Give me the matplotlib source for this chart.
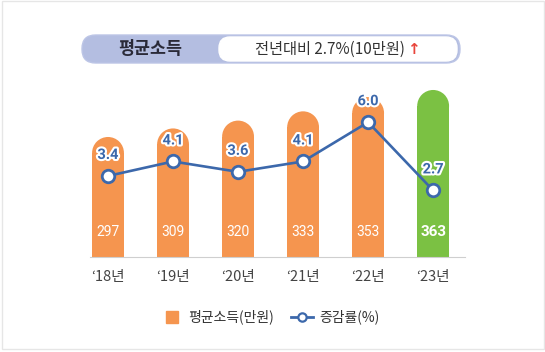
import matplotlib.pyplot as plt
import matplotlib.patheffects as pe
from matplotlib.patches import Ellipse, FancyBboxPatch, Rectangle
from matplotlib.lines import Line2D
import numpy as np

plt.rcParams['font.family'] = ['Noto Sans CJK KR', 'DejaVu Sans']

# 데이터
years = ['‘18년', '‘19년', '‘20년', '‘21년', '‘22년', '‘23년']
income = [297, 309, 320, 333, 353, 363]          # 평균소득(만원)
growth = [3.4, 4.1, 3.6, 4.1, 6.0, 2.7]           # 증감률(%)
bar_colors = ['#F5954F'] * 5 + ['#7BC143']

orange = '#F5954F'
blue = '#3C68AB'

fig = plt.figure(figsize=(5.45, 3.52), dpi=100)
fig.patch.set_facecolor('white')
# 바깥 테두리
fig.add_artist(Rectangle((0.004, 0.008), 0.994, 0.99, transform=fig.transFigure,
                         fill=False, edgecolor='#e6e6e6', lw=1))

ax = fig.add_axes([90 / 545, 95 / 352, 375 / 545, 177 / 352])
ax2 = ax.twinx()

x = np.arange(len(years))
ax.set_xlim(-0.277, 5.49)
ax.set_ylim(128.5, 377)
ax2.set_ylim(-0.52, 8.04)

# 막대 (위쪽 둥근 모양)
bw = 0.49
px_per_y = 177 / (377 - 128.5)
px_per_x = 375 / (5.49 + 0.277)
r = bw * px_per_x / 2 / px_per_y
for xi, v, c in zip(x, income, bar_colors):
    ax.bar(xi, v - r, width=bw, color=c, lw=0, zorder=2)
    ax.add_patch(Ellipse((xi, v - r), bw, 2 * r, facecolor=c, lw=0, zorder=2))

for xi, v, c in zip(x, income, bar_colors):
    big = c != orange
    ax.annotate(str(v), (xi, 128.5), xytext=(0, 25), textcoords='offset pixels',
                ha='center', va='center', color='white',
                fontsize=11 if big else 10, fontweight='bold' if big else 'normal',
                family=['Roboto', 'DejaVu Sans'], zorder=5)

# 증감률 선
ax2.plot(x, growth, color=blue, lw=1.9, marker='o', markersize=9,
         markerfacecolor='white', markeredgecolor=blue, markeredgewidth=2, zorder=4)
for xi, g in zip(x, growth):
    ax2.annotate(f'{g:.1f}', (xi, g), xytext=(0, 21), textcoords='offset pixels',
                 ha='center', va='center', color=blue, fontsize=10.5, fontweight='bold',
                 family=['Roboto', 'DejaVu Sans'],
                 path_effects=[pe.withStroke(linewidth=3, foreground='white')], zorder=6)

for a in (ax, ax2):
    for s in ['top', 'right', 'left']:
        a.spines[s].set_visible(False)
    a.spines['bottom'].set_color('#cfcfcf')
    a.set_yticks([])
ax2.spines['bottom'].set_visible(False)
ax.set_xticks(x)
ax.set_xticklabels(years, fontsize=10.5, color='#444444')
ax.tick_params(axis='x', length=0, pad=9)

# 상단 제목 박스
outer = FancyBboxPatch((82 / 545, 1 - 63 / 352), 378 / 545, 28 / 352,
                       boxstyle='round,pad=0,rounding_size=0.025',
                       transform=fig.transFigure, facecolor='#B4BEE1',
                       edgecolor='#BCC5E6', lw=1, mutation_aspect=545 / 352)
inner = FancyBboxPatch((219 / 545, 1 - 61 / 352), 238 / 545, 24 / 352,
                       boxstyle='round,pad=0,rounding_size=0.02',
                       transform=fig.transFigure, facecolor='white',
                       edgecolor='white', lw=1, mutation_aspect=545 / 352)
fig.add_artist(outer)
fig.add_artist(inner)
fig.text(150 / 545, 1 - 49 / 352, '평균소득', ha='center', va='center',
         fontsize=12.5, fontweight='bold', color='#2a2a38')
fig.text(330 / 545, 1 - 49 / 352, '전년대비 2.7%(10만원)', ha='center', va='center',
         fontsize=11, color='#333333')
fig.text(413 / 545, 1 - 49 / 352, '↑', ha='center', va='center',
         fontsize=11, fontweight='bold', color='#E8453C', family=['DejaVu Sans'])

# 범례
handles = [Line2D([], [], marker='s', color=orange, linestyle='none', markersize=8),
           Line2D([], [], color=blue, lw=2, marker='o', markersize=6,
                  markerfacecolor='white', markeredgecolor=blue, markeredgewidth=1.6)]
fig.legend(handles, ['평균소득(만원)', '증감률(%)'], loc='center',
           bbox_to_anchor=(270 / 545, 1 - 317 / 352), ncol=2, frameon=False,
           fontsize=10, handlelength=1.6, handletextpad=0.4, columnspacing=1.2,
           labelcolor='#333333')

plt.savefig('out.png', dpi=100)
